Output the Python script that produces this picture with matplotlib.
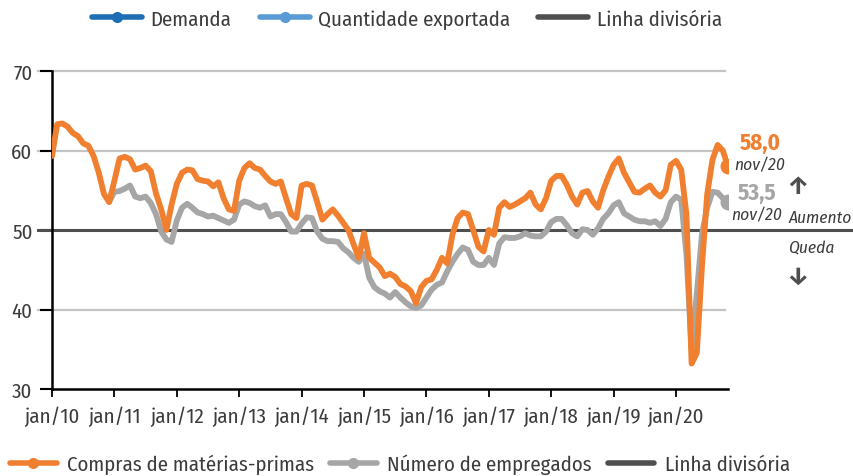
import numpy as np
import matplotlib
matplotlib.use("Agg")
import matplotlib.pyplot as plt
from matplotlib.lines import Line2D
from matplotlib import font_manager

# pick a condensed family that has a regular (400) upright face
_pref = ['Fira Sans Condensed', 'Barlow Semi Condensed', 'Roboto Condensed',
         'Asap Condensed', 'Encode Sans Condensed', 'Archivo Narrow',
         'Liberation Sans Narrow']
_ok = set()
for f in font_manager.fontManager.ttflist:
    w = f.weight if isinstance(f.weight, int) else font_manager.weight_dict.get(f.weight, 400)
    if f.style == 'normal' and w == 400:
        _ok.add(f.name)
_fams = [f for f in _pref if f in _ok]
MAIN = _fams[0] if _fams else 'DejaVu Sans'
plt.rcParams['font.family'] = [MAIN, 'DejaVu Sans']

# ---- data -------------------------------------------------------------
n_months = 131  # jan/10 .. nov/20
tick_labels = ["jan/10", "jan/11", "jan/12", "jan/13", "jan/14", "jan/15",
               "jan/16", "jan/17", "jan/18", "jan/19", "jan/20"]

compras = [
    59.3, 63.3, 63.4, 63.0, 62.2, 61.8, 60.9, 60.6, 59.3, 57.2, 54.5, 53.5,   # 2010
    56.2, 59.0, 59.2, 58.9, 57.6, 57.8, 58.1, 57.4, 54.6, 52.6, 50.0, 53.2,   # 2011
    55.8, 57.2, 57.6, 57.5, 56.4, 56.2, 56.1, 55.5, 56.0, 54.0, 52.6, 52.4,   # 2012
    56.2, 57.8, 58.4, 57.8, 57.6, 56.8, 56.1, 55.8, 56.1, 54.0, 52.0, 51.5,   # 2013
    55.6, 55.8, 55.6, 53.5, 51.3, 52.0, 52.6, 51.8, 50.9, 50.0, 48.2, 46.5,   # 2014
    49.6, 46.5, 45.9, 45.3, 44.2, 44.5, 44.1, 43.2, 42.9, 42.3, 40.8, 42.8,   # 2015
    43.6, 43.8, 45.0, 46.5, 45.8, 49.4, 51.5, 52.2, 52.0, 50.0, 47.9, 47.3,   # 2016
    50.0, 49.4, 52.8, 53.5, 52.9, 53.2, 53.6, 54.0, 54.7, 53.2, 52.6, 54.0,   # 2017
    56.2, 56.8, 56.8, 55.7, 54.2, 53.2, 54.7, 54.9, 53.6, 52.8, 55.0, 56.7,   # 2018
    58.2, 59.0, 57.2, 56.0, 54.8, 54.7, 55.2, 55.6, 54.7, 54.2, 55.0, 58.2,   # 2019
    58.7, 57.6, 52.0, 33.2, 34.5, 45.5, 54.5, 58.8, 60.7, 60.0, 58.0,         # 2020
]

empregados = [
    np.nan, np.nan, np.nan, np.nan, np.nan, np.nan, np.nan, np.nan, np.nan, np.nan, np.nan, 53.6,
    54.8, 54.9, 55.2, 55.6, 54.2, 54.0, 54.2, 53.4, 52.0, 49.8, 48.8, 48.5,
    51.2, 52.8, 53.3, 52.8, 52.2, 52.0, 51.7, 51.8, 51.5, 51.2, 50.9, 51.3,
    53.2, 53.6, 53.4, 53.0, 52.8, 53.1, 51.7, 52.0, 52.0, 51.0, 49.8, 49.8,
    50.8, 51.6, 51.5, 49.8, 48.9, 48.6, 48.6, 48.5, 47.7, 47.2, 46.5, 46.0,
    47.0, 44.0, 42.8, 42.3, 42.0, 41.5, 42.2, 41.5, 40.9, 40.4, 40.2, 40.5,
    41.5, 42.5, 43.1, 43.4, 44.8, 46.0, 47.0, 47.8, 47.5, 46.0, 45.6, 45.6,
    46.5, 45.6, 48.3, 49.1, 49.0, 49.0, 49.2, 49.6, 49.3, 49.2, 49.2, 49.8,
    51.0, 51.4, 51.4, 50.6, 49.6, 49.2, 50.1, 50.0, 49.4, 50.2, 51.4, 52.1,
    53.1, 53.5, 52.1, 51.7, 51.3, 51.1, 51.1, 50.9, 51.1, 50.5, 51.4, 53.5,
    54.2, 53.8, 47.0, 35.0, 42.0, 49.5, 52.8, 54.8, 54.7, 54.0, 53.5,
]

last_label = "nov/20"
divisoria = 50

# ---- style -------------------------------------------------------------
c_orange = "#F0802F"
c_gray = "#A6A6A6"
c_dark = "#4F4F4F"
c_text = "#3C3C3C"
c_grid = "#C4C4C4"

W, H = 854, 477
fig = plt.figure(figsize=(W / 100, H / 100), dpi=100)

def fx(px):
    return px / W

def fy(py):
    return 1 - py / H

fs = 15 if MAIN != 'DejaVu Sans' else 12
fs_it = fs - 2.5

ax_l, ax_r, ax_t, ax_b = 52, 728, 72, 390
ax = fig.add_axes([fx(ax_l), fy(ax_b), fx(ax_r - ax_l), (ax_b - ax_t) / H])

x = np.arange(n_months)
ax.set_xlim(0, n_months - 1)
ax.set_ylim(30, 70)

for v in (40, 60, 70):
    ax.axhline(v, color=c_grid, lw=1.6, zorder=1, xmin=-0.02, xmax=0.995, clip_on=False)

ax.axhline(divisoria, color=c_dark, lw=2.2, zorder=2,
           xmin=-0.02, xmax=(W - ax_l) / (ax_r - ax_l), clip_on=False)

ax.plot(x, empregados, color=c_gray, lw=4.2, solid_joinstyle='round',
        solid_capstyle='round', zorder=3)
ax.plot(x, compras, color=c_orange, lw=4.2, solid_joinstyle='round',
        solid_capstyle='round', zorder=4)
ax.plot(x[-1], compras[-1], 'o', color=c_orange, ms=10.5, zorder=5)
ax.plot(x[-1], empregados[-1], 'o', color=c_gray, ms=10.5, zorder=5)

ax.set_yticks([30, 40, 50, 60, 70])
ax.set_yticklabels(["30", "40", "50", "60", "70"])
ax.set_xticks(np.arange(0, n_months, 12))
ax.set_xticklabels(tick_labels)
ax.tick_params(axis='y', length=9, width=1.5, color='black', labelsize=fs,
               labelcolor=c_text, pad=5)
ax.tick_params(axis='x', length=6, width=1.3, color='black', labelsize=fs,
               labelcolor=c_text, pad=6)
for s in ('top', 'right'):
    ax.spines[s].set_visible(False)
ax.spines['left'].set_linewidth(1.8)
ax.spines['bottom'].set_linewidth(1.8)

# end labels
fig.text(fx(760), fy(143), "58,0", color=c_orange, fontsize=fs + 1.5,
         fontweight='bold', ha='center', va='center')
fig.text(fx(760), fy(166), last_label, color=c_text, fontsize=fs_it, style='italic',
         ha='center', va='center')
fig.text(fx(757), fy(193), "53,5", color=c_gray, fontsize=fs + 1.5,
         fontweight='bold', ha='center', va='center')
fig.text(fx(757), fy(216), last_label, color=c_text, fontsize=fs_it, style='italic',
         ha='center', va='center')
fig.text(fx(820), fy(218), "Aumento", color=c_text, fontsize=fs_it, style='italic',
         ha='center', va='center')
fig.text(fx(811), fy(248), "Queda", color=c_text, fontsize=fs_it, style='italic',
         ha='center', va='center')

# direction arrows
fig.text(fx(797), fy(187), "\u2191", color=c_dark, fontsize=18, fontweight='bold',
         ha='center', va='center')
fig.text(fx(797), fy(277), "\u2193", color=c_dark, fontsize=18, fontweight='bold',
         ha='center', va='center')

# legends
def h(color, marker=True):
    return Line2D([0], [0], color=color, lw=4, marker='o' if marker else None,
                  ms=7, solid_capstyle='round')

fig.legend([h("#1F6DB3"), h("#5B9BD5"), h(c_dark, False)],
           ["Demanda", "Quantidade exportada", "Linha divisória"],
           loc='center', bbox_to_anchor=(fx(407), fy(20)), ncol=3,
           frameon=False, fontsize=fs, handlelength=2.4, columnspacing=1.35,
           handletextpad=0.4, labelcolor=c_text)
fig.legend([h(c_orange), h(c_gray), h(c_dark, False)],
           ["Compras de matérias-primas", "Número de empregados", "Linha divisória"],
           loc='center', bbox_to_anchor=(fx(400), fy(465)), ncol=3,
           frameon=False, fontsize=fs, handlelength=2.25, columnspacing=0.75,
           handletextpad=0.5, labelcolor=c_text)

fig.savefig("out.png", dpi=100)
